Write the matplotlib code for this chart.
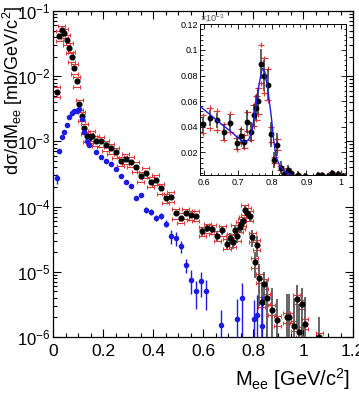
import numpy as np
import matplotlib
matplotlib.use("Agg")
from matplotlib import pyplot as plt
from matplotlib.ticker import MultipleLocator, LogLocator, NullFormatter, FuncFormatter

plt.rcParams['font.family'] = ['Liberation Sans', 'DejaVu Sans']
plt.rcParams['mathtext.fontset'] = 'custom'
plt.rcParams['mathtext.rm'] = 'Liberation Sans'
plt.rcParams['mathtext.it'] = 'Liberation Sans:italic'
plt.rcParams['axes.unicode_minus'] = False

# data (M_ee in GeV/c^2, dsigma/dM in mb/GeV/c^2)
m_data = [0.015, 0.025, 0.035, 0.045, 0.055, 0.065, 0.075, 0.085, 0.095, 0.105,
          0.115, 0.125, 0.135, 0.145, 0.155, 0.17, 0.19, 0.21, 0.23, 0.25,
          0.27, 0.29, 0.31, 0.33, 0.35, 0.37, 0.39, 0.41, 0.43, 0.45,
          0.47, 0.49, 0.51, 0.53, 0.55, 0.57, 0.597, 0.617, 0.637, 0.657,
          0.677, 0.696, 0.708, 0.718, 0.727, 0.737, 0.746, 0.753, 0.759, 0.767,
          0.777, 0.787, 0.796, 0.806, 0.815, 0.825, 0.835, 0.845, 0.855, 0.875,
          0.896, 0.935, 0.945, 0.964, 0.974, 0.984, 0.994, 1.006, 1.064]
xs_data = [5.8e-3, 4.2e-2, 5.1e-2, 4.6e-2, 3.6e-2, 2.75e-2, 2.0e-2, 1.32e-2, 8.3e-3, 3.7e-3,
           2.45e-3, 1.58e-3, 1.2e-3, 1.12e-3, 1.23e-3, 1.02e-3, 1.0e-3, 8.7e-4, 7.8e-4, 6.8e-4,
           5.0e-4, 5.4e-4, 4.9e-4, 4.1e-4, 2.9e-4, 3.3e-4, 2.4e-4, 2.6e-4, 1.9e-4, 1.35e-4,
           1.41e-4, 7.9e-5, 6.8e-5, 7.9e-5, 7.4e-5, 7.2e-5, 4.2e-5, 4.7e-5, 4.5e-5, 3.6e-5,
           4.3e-5, 2.7e-5, 3.3e-5, 2.85e-5, 4.4e-5, 3.6e-5, 4.9e-5, 5.5e-5, 6.0e-5, 8.9e-5,
           8.0e-5, 7.3e-5, 3.4e-5, 1.4e-5, 2.6e-5, 8.0e-6, 3.5e-6, 6.6e-6, 3.9e-6, 2.6e-6,
           1.8e-6, 2.0e-6, 2.0e-6, 1.5e-6, 3.8e-6, 1.2e-6, 3.2e-6, 1.6e-6, 1.0e-6]
stat_data = [0, 0, 0, 0, 0, 0, 0, 0, 0, 0,
             0, 0, 0, 0, 0, 0, 0, 0, 0, 0,
             0, 0, 0, 0, 0, 0, 0, 0, 0, 0,
             0, 0, 0, 0, 0, 0, 6e-6, 6e-6, 6e-6, 6e-6,
             6e-6, 5e-6, 6e-6, 6e-6, 9e-6, 8e-6, 9e-6, 1.0e-5, 1.0e-5, 1.2e-5,
             1.2e-5, 1.2e-5, 1.0e-5, 6e-6, 9e-6, 5e-6, 3.5e-6, 3.5e-6, 3.5e-6, 3.0e-6,
             2.0e-6, 2.5e-6, 2.5e-6, 2.5e-6, 2.5e-6, 2.0e-6, 2.5e-6, 2.5e-6, 1.0e-6]
sys_rel = 0.17

m_blue = [0.015, 0.025, 0.035, 0.045, 0.055, 0.065, 0.075, 0.085, 0.095, 0.105,
          0.115, 0.125, 0.135, 0.145, 0.17, 0.19, 0.21, 0.23, 0.25, 0.27,
          0.29, 0.31, 0.33, 0.35, 0.37, 0.39, 0.41, 0.43, 0.45, 0.47,
          0.49, 0.51, 0.53, 0.55, 0.57, 0.59, 0.61, 0.67, 0.735, 0.755,
          0.805, 0.815, 0.835]
xs_blue = [2.7e-4, 7.1e-4, 1.15e-3, 1.38e-3, 1.78e-3, 2.34e-3, 2.75e-3, 2.88e-3, 2.95e-3, 3.1e-3,
           2.24e-3, 1.41e-3, 1.02e-3, 8.9e-4, 6.8e-4, 5.75e-4, 5.0e-4, 4.47e-4, 3.8e-4, 2.95e-4,
           2.4e-4, 2.09e-4, 1.35e-4, 1.48e-4, 8.9e-5, 8.3e-5, 6.8e-5, 7.2e-5, 5.5e-5, 3.5e-5,
           3.3e-5, 2.45e-5, 1.26e-5, 7.6e-6, 5.0e-6, 7.1e-6, 5.1e-6, 1.55e-6, 1.86e-6, 3.9e-6,
           1.86e-6, 2.2e-6, 1.5e-6]
err_blue = [5e-5, 0, 0, 0, 0, 0, 0, 0, 0, 0,
            0, 0, 0, 0, 1e-5, 1e-5, 1e-5, 1e-5, 1e-5, 8e-6,
            8e-6, 8e-6, 6e-6, 6e-6, 9e-6, 8e-6, 7e-6, 7e-6, 7e-6, 8e-6,
            8e-6, 5e-6, 3e-6, 3.1e-6, 2.3e-6, 3e-6, 2.5e-6, 1.05e-6, 1.9e-6, 2.9e-6,
            1.85e-6, 2.2e-6, 2.7e-6]

# fit curve shown in the inset (units of 1e-3 mb/GeV/c^2)
fit_m = [0.588, 0.62, 0.648, 0.675, 0.697, 0.712, 0.721, 0.731, 0.741, 0.750,
         0.760, 0.770, 0.778, 0.787, 0.797, 0.804, 0.811, 0.823, 0.838, 0.852, 0.86]
fit_xs = [0.056, 0.049, 0.0427, 0.037, 0.032, 0.029, 0.0283, 0.030, 0.0374, 0.053,
          0.0713, 0.0856, 0.083, 0.0687, 0.048, 0.0296, 0.0166, 0.0088, 0.0048, 0.003, 0.002]

red = '#e03a3a'
blue = '#1c1ce6'

m = np.array(m_data)
y = np.array(xs_data)
st = np.array(stat_data)
lo = np.minimum(st, y - 1e-12)

fig = plt.figure(figsize=(3.59, 3.95), dpi=100)
ax = fig.add_axes([53 / 359, 1 - 337 / 395, 300 / 359, 326 / 395])
ax.set_yscale('log')

# systematic errors: red brackets above and below each point
for s in (1 + sys_rel, 1 - sys_rel):
    ax.errorbar(m, y * s, xerr=0.014, fmt='none', ecolor=red, elinewidth=0.8,
                capsize=1.2, capthick=0.8, zorder=2)
ax.errorbar(m, y, yerr=[lo, st], fmt='o', ms=3.4, color='black', ecolor='0.35',
            elinewidth=1.3, capsize=0, zorder=3)

yb = np.array(xs_blue)
eb = np.array(err_blue)
ax.errorbar(m_blue, yb, yerr=[np.minimum(eb, yb - 1e-12), eb], fmt='o', ms=3.0,
            color=blue, ecolor=blue, elinewidth=1.0, capsize=0, zorder=3)

ax.set_xlim(0, 1.2)
ax.set_ylim(1e-6, 1e-1)
ax.xaxis.set_major_locator(MultipleLocator(0.2))
ax.xaxis.set_minor_locator(MultipleLocator(0.05))
ax.xaxis.set_major_formatter(FuncFormatter(lambda v, p: '%g' % round(v, 2)))
ax.yaxis.set_major_locator(LogLocator(base=10, numticks=10))
ax.yaxis.set_minor_locator(LogLocator(base=10, subs=np.arange(2, 10), numticks=10))
ax.yaxis.set_minor_formatter(NullFormatter())
ax.tick_params(which='both', direction='in', top=True, right=True, width=0.8)
ax.tick_params(which='major', length=6, labelsize=12.5)
ax.tick_params(axis='y', labelsize=12)
ax.tick_params(which='minor', length=3)
ax.tick_params(axis='x', pad=5)
ax.tick_params(axis='y', pad=2)
for sp in ax.spines.values():
    sp.set_linewidth(0.9)

fig.text(0.5 / 359, 1 - 6 / 395, 'dσ/dM$_{\\mathrm{ee}}$ [mb/GeV/c$^{2}$]', rotation=90,
         ha='left', va='top', fontsize=13)
fig.text(350 / 359, 1 - 392 / 395, 'M$_{\\mathrm{ee}}$ [GeV/c$^{2}$]', ha='right',
         va='bottom', fontsize=14.5)

# inset: linear zoom on the omega region
axi = fig.add_axes([200 / 359, 1 - 175.5 / 395, 146 / 359, 151.2 / 395])
yi = y * 1e3
sti = st * 1e3
for s in (1 + sys_rel, 1 - sys_rel):
    axi.errorbar(m, yi * s, xerr=0.010, yerr=0.002, fmt='none', ecolor=red,
                 elinewidth=0.9, capsize=0, zorder=2)
axi.errorbar(m, yi, yerr=sti, fmt='o', ms=3.2, color='black', ecolor='0.2',
             elinewidth=1.1, capsize=0, zorder=3)
axi.plot(fit_m, fit_xs, color=blue, lw=1.0, zorder=4)
axi.set_xlim(0.588, 1.016)
axi.set_ylim(0.002, 0.12)
axi.xaxis.set_major_locator(MultipleLocator(0.1))
axi.xaxis.set_minor_locator(MultipleLocator(0.02))
axi.yaxis.set_major_locator(MultipleLocator(0.02))
axi.yaxis.set_minor_locator(MultipleLocator(0.004))
fmt = FuncFormatter(lambda v, p: '%g' % round(v, 3))
axi.xaxis.set_major_formatter(fmt)
axi.yaxis.set_major_formatter(fmt)
axi.tick_params(which='both', direction='in', top=True, right=True, width=0.6, labelsize=6.5)
axi.tick_params(which='major', length=3.5)
axi.tick_params(which='minor', length=1.8)
axi.tick_params(axis='x', pad=2)
axi.tick_params(axis='y', pad=1.5)
for sp in axi.spines.values():
    sp.set_linewidth(0.7)
axi.text(0.0, 1.0, '$\\times$10$^{-3}$', transform=axi.transAxes, fontsize=6.5,
         ha='left', va='bottom', color='0.3')

fig.savefig('out.png', dpi=100)
